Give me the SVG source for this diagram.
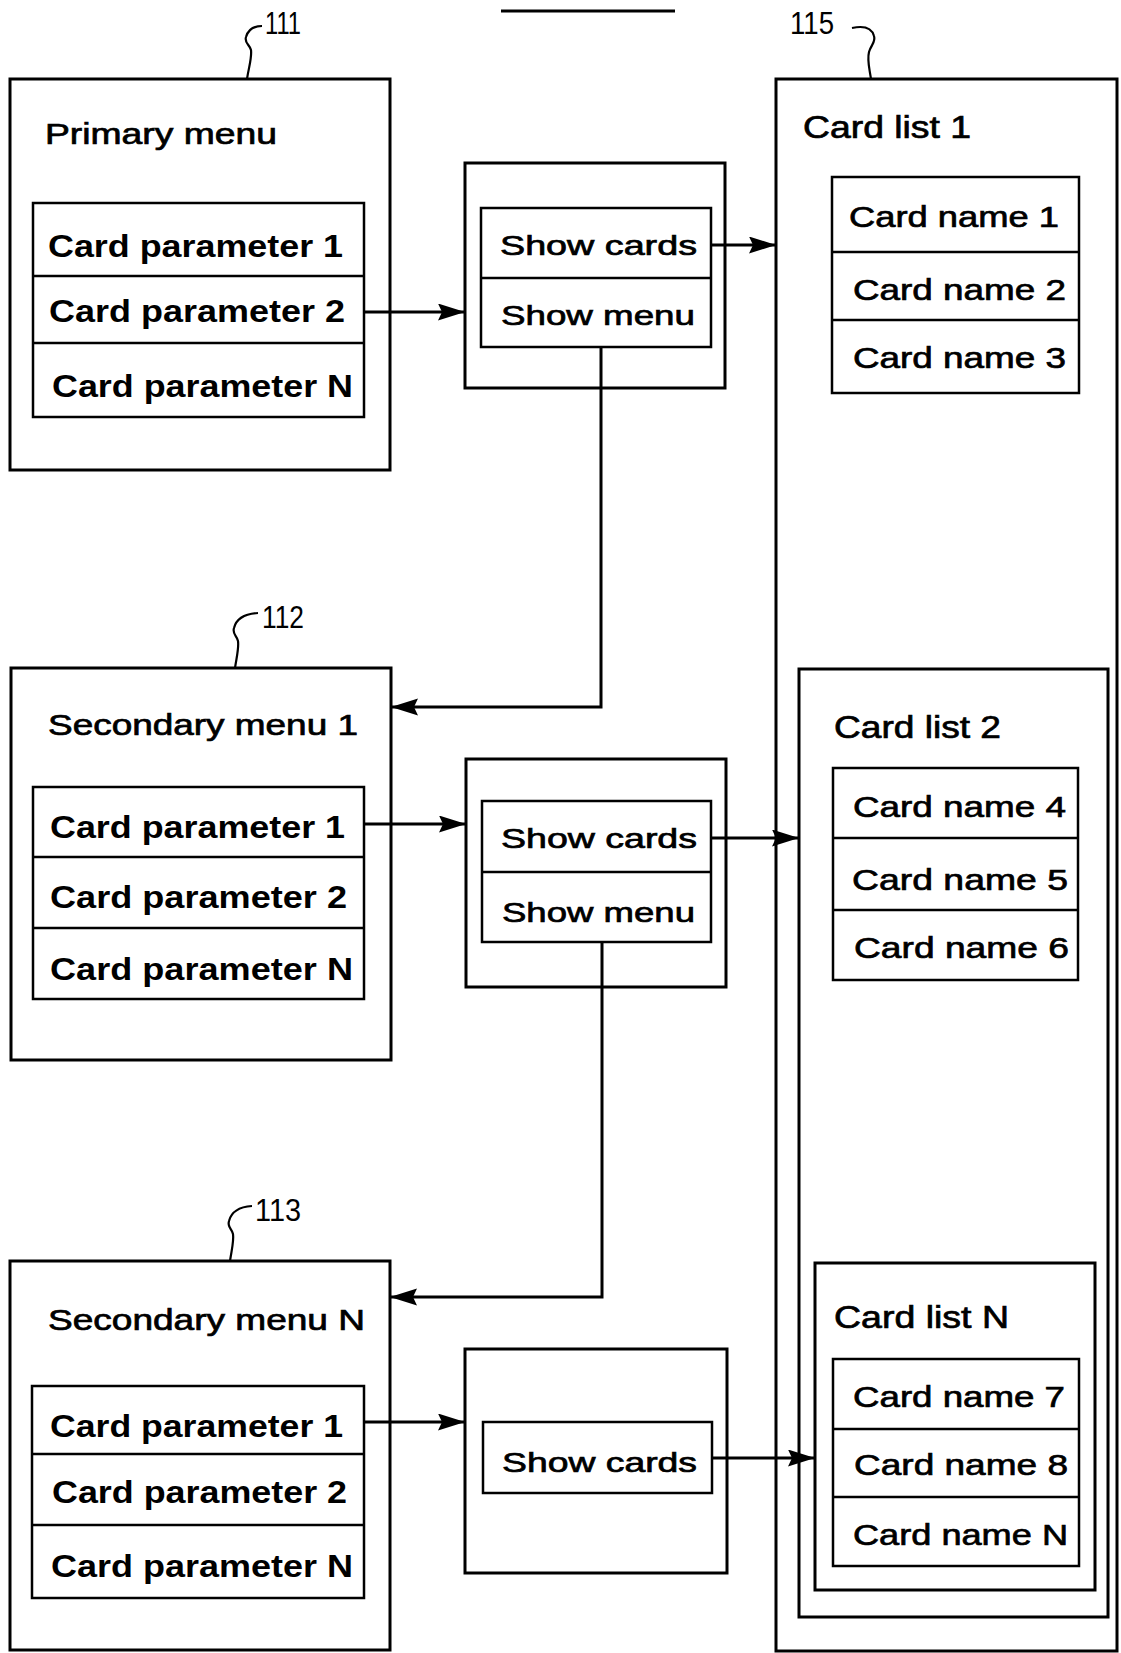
<svg xmlns="http://www.w3.org/2000/svg" width="1121" height="1653" viewBox="0 0 1121 1653">
<style>
.box{fill:none;stroke:#000;stroke-width:3}
.row{fill:none;stroke:#000;stroke-width:2.5}
.con{fill:none;stroke:#000;stroke-width:3}
.lead{fill:none;stroke:#000;stroke-width:2.2}
text{font-family:"Liberation Sans",Arial,sans-serif;fill:#000}
.param{font-size:32px;font-weight:bold}
.title{font-size:29px;stroke:#000;stroke-width:0.7}
.show{font-size:28px;stroke:#000;stroke-width:0.7}
.list{font-size:31px;stroke:#000;stroke-width:0.7}
.name{font-size:30px;stroke:#000;stroke-width:0.7}
.ref{font-size:31px}
</style>
<defs>
<marker id="ah" markerUnits="userSpaceOnUse" markerWidth="28" markerHeight="18" refX="27" refY="8.5" orient="auto">
<path d="M0,0 L27,8.5 L0,17 L4,8.5 z" fill="#000"/>
</marker>
</defs>
<line x1="501" y1="11" x2="675" y2="11" stroke="#000" stroke-width="3"/>

<g id="primary-menu">
<rect class="box" x="10" y="79" width="380" height="391"/>
<text class="title" x="45" y="144" textLength="232" lengthAdjust="spacingAndGlyphs">Primary menu</text>
<rect class="row" x="33" y="203" width="331" height="214"/>
<line class="row" x1="33" y1="276" x2="364" y2="276"/>
<line class="row" x1="33" y1="343" x2="364" y2="343"/>
<text class="param" x="48" y="257" textLength="295" lengthAdjust="spacingAndGlyphs">Card parameter 1</text>
<text class="param" x="49" y="322" textLength="296" lengthAdjust="spacingAndGlyphs">Card parameter 2</text>
<text class="param" x="52" y="397" textLength="301" lengthAdjust="spacingAndGlyphs">Card parameter N</text>
<path class="lead" d="M247,79 C249,66 252,58 251,50 C250,45 244,43 246,37 C248,30 254,26 262,26"/>
<text class="ref" x="265" y="34" textLength="36" lengthAdjust="spacingAndGlyphs">111</text>
</g>

<g id="secondary-menu-1">
<rect class="box" x="11" y="668" width="380" height="392"/>
<text class="title" x="48" y="735" textLength="310" lengthAdjust="spacingAndGlyphs">Secondary menu 1</text>
<rect class="row" x="33" y="787" width="331" height="212"/>
<line class="row" x1="33" y1="857" x2="364" y2="857"/>
<line class="row" x1="33" y1="928" x2="364" y2="928"/>
<text class="param" x="50" y="838" textLength="295" lengthAdjust="spacingAndGlyphs">Card parameter 1</text>
<text class="param" x="50" y="908" textLength="297" lengthAdjust="spacingAndGlyphs">Card parameter 2</text>
<text class="param" x="50" y="980" textLength="303" lengthAdjust="spacingAndGlyphs">Card parameter N</text>
<path class="lead" d="M235,668 C237,655 239,648 238,641 C237,636 232,634 234,628 C236,620 242,614 258,613"/>
<text class="ref" x="262" y="628" textLength="42" lengthAdjust="spacingAndGlyphs">112</text>
</g>

<g id="secondary-menu-n">
<rect class="box" x="10" y="1261" width="380" height="389"/>
<text class="title" x="48" y="1330" textLength="317" lengthAdjust="spacingAndGlyphs">Secondary menu N</text>
<rect class="row" x="32" y="1386" width="332" height="212"/>
<line class="row" x1="32" y1="1454" x2="364" y2="1454"/>
<line class="row" x1="32" y1="1525" x2="364" y2="1525"/>
<text class="param" x="50" y="1437" textLength="293" lengthAdjust="spacingAndGlyphs">Card parameter 1</text>
<text class="param" x="52" y="1503" textLength="295" lengthAdjust="spacingAndGlyphs">Card parameter 2</text>
<text class="param" x="51" y="1577" textLength="302" lengthAdjust="spacingAndGlyphs">Card parameter N</text>
<path class="lead" d="M230,1261 C232,1248 234,1241 233,1234 C232,1229 227,1227 229,1221 C231,1213 237,1207 252,1206"/>
<text class="ref" x="255" y="1221" textLength="46" lengthAdjust="spacingAndGlyphs">113</text>
</g>

<g id="show-box-1">
<rect class="box" x="465" y="163" width="260" height="225"/>
<rect class="row" x="481" y="208" width="230" height="139"/>
<line class="row" x1="481" y1="278" x2="711" y2="278"/>
<text class="show" x="500" y="255" textLength="197" lengthAdjust="spacingAndGlyphs">Show cards</text>
<text class="show" x="501" y="325" textLength="194" lengthAdjust="spacingAndGlyphs">Show menu</text>
</g>

<g id="show-box-2">
<rect class="box" x="466" y="759" width="260" height="228"/>
<rect class="row" x="482" y="801" width="229" height="141"/>
<line class="row" x1="482" y1="872" x2="711" y2="872"/>
<text class="show" x="501" y="848" textLength="196" lengthAdjust="spacingAndGlyphs">Show cards</text>
<text class="show" x="502" y="922" textLength="193" lengthAdjust="spacingAndGlyphs">Show menu</text>
</g>

<g id="show-box-n">
<rect class="box" x="465" y="1349" width="262" height="224"/>
<rect class="row" x="483" y="1422" width="229" height="71"/>
<text class="show" x="502" y="1472" textLength="195" lengthAdjust="spacingAndGlyphs">Show cards</text>
</g>

<g id="card-list-1">
<rect class="box" x="776" y="79" width="341" height="1572"/>
<text class="list" x="803" y="138" textLength="168" lengthAdjust="spacingAndGlyphs">Card list 1</text>
<rect class="row" x="832" y="177" width="247" height="216"/>
<line class="row" x1="832" y1="252" x2="1079" y2="252"/>
<line class="row" x1="832" y1="320" x2="1079" y2="320"/>
<text class="name" x="849" y="227" textLength="210" lengthAdjust="spacingAndGlyphs">Card name 1</text>
<text class="name" x="853" y="300" textLength="213" lengthAdjust="spacingAndGlyphs">Card name 2</text>
<text class="name" x="853" y="368" textLength="213" lengthAdjust="spacingAndGlyphs">Card name 3</text>
<path class="lead" d="M871,79 C869,66 867,60 869,52 C871,45 876,42 874,36 C872,29 866,25 852,28"/>
<text class="ref" x="790" y="34" textLength="44" lengthAdjust="spacingAndGlyphs">115</text>
</g>

<g id="card-list-2">
<rect class="box" x="799" y="669" width="309" height="948"/>
<text class="list" x="834" y="738" textLength="167" lengthAdjust="spacingAndGlyphs">Card list 2</text>
<rect class="row" x="833" y="768" width="245" height="212"/>
<line class="row" x1="833" y1="838" x2="1078" y2="838"/>
<line class="row" x1="833" y1="910" x2="1078" y2="910"/>
<text class="name" x="853" y="817" textLength="213" lengthAdjust="spacingAndGlyphs">Card name 4</text>
<text class="name" x="852" y="890" textLength="216" lengthAdjust="spacingAndGlyphs">Card name 5</text>
<text class="name" x="854" y="958" textLength="215" lengthAdjust="spacingAndGlyphs">Card name 6</text>
</g>

<g id="card-list-n">
<rect class="box" x="815" y="1263" width="280" height="327"/>
<text class="list" x="834" y="1328" textLength="175" lengthAdjust="spacingAndGlyphs">Card list N</text>
<rect class="row" x="833" y="1359" width="246" height="207"/>
<line class="row" x1="833" y1="1429" x2="1079" y2="1429"/>
<line class="row" x1="833" y1="1497" x2="1079" y2="1497"/>
<text class="name" x="853" y="1407" textLength="212" lengthAdjust="spacingAndGlyphs">Card name 7</text>
<text class="name" x="854" y="1475" textLength="214" lengthAdjust="spacingAndGlyphs">Card name 8</text>
<text class="name" x="853" y="1545" textLength="215" lengthAdjust="spacingAndGlyphs">Card name N</text>
</g>

<g id="connectors">
<path class="con" d="M364,312 H465" marker-end="url(#ah)"/>
<path class="con" d="M711,245 H776" marker-end="url(#ah)"/>
<path class="con" d="M601,347 V707 H391" marker-end="url(#ah)"/>
<path class="con" d="M364,824 H466" marker-end="url(#ah)"/>
<path class="con" d="M711,838 H799" marker-end="url(#ah)"/>
<path class="con" d="M602,942 V1297 H390" marker-end="url(#ah)"/>
<path class="con" d="M364,1422 H465" marker-end="url(#ah)"/>
<path class="con" d="M712,1458 H815" stroke-width="4.5" marker-end="url(#ah)"/>
</g>
</svg>
